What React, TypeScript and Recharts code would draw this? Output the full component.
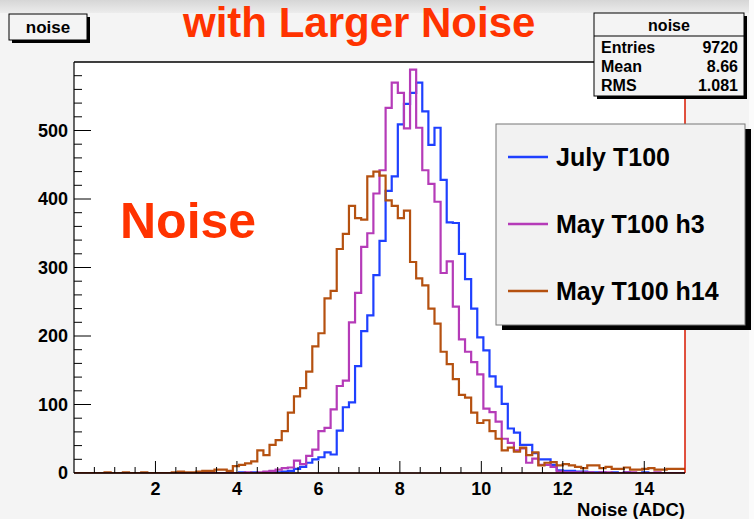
import React from 'react';
import { ComposedChart, Line, XAxis, YAxis, ReferenceLine } from 'recharts';

// ---- data (100 bins, 0..15, width 0.15) ----
const binEdgesStart = 0;
const binWidth = 0.15;
const julyT100 = [
  0, 0, 0, 0, 0, 0, 0, 0, 0, 0,
  0, 0, 0, 0, 0, 0, 0, 0, 0, 0,
  0, 0, 0, 0, 0, 0, 0, 1, 0, 1,
  0, 1, 2, 1, 2, 3, 6, 9, 15, 20,
  23, 30, 27, 62, 96, 103, 156, 207, 230, 289,
  339, 412, 433, 509, 539, 555, 570, 528, 479, 504,
  428, 366, 365, 320, 283, 240, 198, 179, 141, 126,
  101, 65, 59, 41, 41, 29, 20, 20, 12, 4,
  3, 3, 2, 2, 1, 1, 1, 0, 1, 0,
  1, 0, 0, 1, 0, 0, 0, 0, 0, 0,
];
const mayT100h3 = [
  0, 0, 0, 0, 0, 0, 0, 0, 0, 0,
  0, 0, 0, 0, 0, 0, 0, 0, 0, 0,
  0, 0, 0, 0, 0, 0, 0, 0, 1, 0,
  1, 2, 3, 5, 7, 8, 18, 13, 25, 34,
  61, 66, 93, 127, 135, 220, 263, 330, 350, 408,
  442, 533, 570, 555, 503, 589, 504, 442, 422, 396,
  292, 309, 243, 195, 177, 162, 144, 94, 89, 75,
  50, 44, 33, 36, 15, 21, 12, 12, 9, 2,
  1, 1, 1, 1, 1, 0, 1, 1, 0, 0,
  1, 1, 0, 0, 0, 1, 0, 0, 0, 0,
];
const mayT100h14 = [
  0, 0, 0, 0, 0, 1, 0, 0, 1, 0,
  0, 1, 0, 0, 0, 0, 1, 2, 1, 1,
  2, 3, 3, 5, 5, 3, 10, 12, 14, 17,
  33, 26, 41, 48, 61, 88, 112, 124, 148, 185,
  204, 255, 266, 327, 349, 390, 372, 370, 433, 440,
  434, 398, 390, 372, 383, 308, 284, 274, 240, 218,
  177, 159, 137, 114, 110, 88, 73, 77, 61, 50,
  33, 37, 31, 37, 26, 30, 11, 15, 16, 11,
  13, 11, 9, 7, 11, 11, 7, 9, 6, 6,
  8, 5, 5, 6, 7, 5, 5, 6, 6, 6,
];
const seriesNames = ['July T100', 'May T100 h3', 'May T100 h14'];
const seriesKeys = ['july', 'h3', 'h14'];
const seriesColors = ['#1f40ff', '#b53bb8', '#b55110'];
const xTicks = [0, 0.5, 1, 1.5, 2, 2.5, 3, 3.5, 4, 4.5, 5, 5.5, 6, 6.5, 7, 7.5, 8, 8.5, 9, 9.5, 10, 10.5, 11, 11.5, 12, 12.5, 13, 13.5, 14, 14.5, 15];
const xTickLabels = [2, 4, 6, 8, 10, 12, 14];
const xMajor = [2, 4, 6, 8, 10, 12, 14];
const yTicks = [0, 20, 40, 60, 80, 100, 120, 140, 160, 180, 200, 220, 240, 260, 280, 300, 320, 340, 360, 380, 400, 420, 440, 460, 480, 500, 520, 540, 560, 580, 600];
const yTickLabels = [0, 100, 200, 300, 400, 500];
const statsRows = [
  ['Entries', '9720'],
  ['Mean', '8.66'],
  ['RMS', '1.081'],
];

// ---- build table ----
const series = [julyT100, mayT100h3, mayT100h14];
const data: any[] = julyT100.map((_, i) => {
  const row: any = { x: +(binEdgesStart + i * binWidth).toFixed(4) };
  seriesKeys.forEach((k, s) => (row[k] = series[s][i]));
  return row;
});
{
  const last: any = { x: +(binEdgesStart + julyT100.length * binWidth).toFixed(4) };
  seriesKeys.forEach((k, s) => (last[k] = series[s][series[s].length - 1]));
  data.push(last);
}

// ---- layout ----
const W = 754;
const H = 519;
const PL = 74;
const PT = 62;
const PR = 685;
const PB = 473;
const FONT = '"Liberation Sans", Arial, Helvetica, sans-serif';

const XTick = (props: any) => {
  const { x, payload } = props;
  const v = payload.value;
  if (v <= 0 || v >= 15) return <g />;
  const major = xMajor.includes(v);
  return (
    <g>
      <line x1={x} x2={x} y1={PB} y2={PB - (major ? 12 : 6)} stroke="#000" strokeWidth={1} />
      {xTickLabels.includes(v) && (
        <text x={x} y={PB + 22} textAnchor="middle" fontFamily={FONT} fontWeight="bold" fontSize={18} fill="#000">
          {v}
        </text>
      )}
    </g>
  );
};

const YTick = (props: any) => {
  const { y, payload } = props;
  const v = payload.value;
  const major = v % 100 === 0;
  return (
    <g>
      {v > 0 && v < 600 && (
        <line x1={PL} x2={PL + (major ? 17 : 8)} y1={y} y2={y} stroke="#000" strokeWidth={1} />
      )}
      {yTickLabels.includes(v) && (
        <text x={PL - 6} y={y + 6} textAnchor="end" fontFamily={FONT} fontWeight="bold" fontSize={18} fill="#000">
          {v}
        </text>
      )}
    </g>
  );
};

export default function App() {
  return (
    <div style={{ position: 'absolute', left: 0, top: 0, width: W, height: H, background: '#f4f4f4', overflow: 'hidden' }}>
      <div style={{ position: 'absolute', left: 0, top: 0, width: W, height: 13, background: 'linear-gradient(#d6d6d6, #ececec)' }} />
      <div style={{ position: 'absolute', left: W - 5, top: 0, width: 5, height: H, background: '#fbfbfb' }} />
      <div style={{ position: 'absolute', left: PL, top: PT, width: PR - PL, height: PB - PT, background: '#ffffff' }} />
      <div style={{ position: 'absolute', left: 0, top: 0 }}>
        <ComposedChart width={W} height={H} data={data} margin={{ top: PT, right: W - PR, bottom: 0, left: 0 }}>
          <XAxis
            dataKey="x"
            type="number"
            domain={[0, 15]}
            ticks={xTicks}
            interval={0}
            tickLine={false}
            tick={(p: any) => <XTick {...p} />}
            axisLine={{ stroke: '#000', strokeWidth: 1.5 }}
            height={H - PB}
            allowDataOverflow
          />
          <YAxis
            type="number"
            domain={[0, 600]}
            ticks={yTicks}
            interval={0}
            tickLine={false}
            tick={(p: any) => <YTick {...p} />}
            axisLine={{ stroke: '#000', strokeWidth: 1.2 }}
            width={PL}
            allowDataOverflow
          />
          <ReferenceLine y={600} stroke="#000" strokeWidth={1.5} ifOverflow="visible" />
          {seriesKeys.map((k, i) => (
            <Line
              key={k}
              dataKey={k}
              name={seriesNames[i]}
              type="stepAfter"
              stroke={seriesColors[i]}
              strokeWidth={2.2}
              dot={false}
              activeDot={false}
              isAnimationActive={false}
            />
          ))}
          <ReferenceLine y={0} stroke="#d81800" strokeWidth={1.2} ifOverflow="visible" />
          <ReferenceLine x={15} stroke="#d81800" strokeWidth={1.5} ifOverflow="visible" />
        </ComposedChart>
      </div>
      <svg width={W} height={H} style={{ position: 'absolute', left: 0, top: 0, pointerEvents: 'none' }}>
        {/* top-left histogram name box */}
        <rect x={12} y={17} width={78} height={26} fill="#000" />
        <rect x={9} y={14} width={78} height={26} fill="#f4f4f4" stroke="#000" strokeWidth={1} />
        <text x={48} y={33} textAnchor="middle" fontFamily={FONT} fontWeight="bold" fontSize={17} fill="#000">noise</text>

        {/* title */}
        <text x={183} y={37} fontFamily={FONT} fontWeight="bold" fontSize={42} fill="#ff3300">with Larger Noise</text>

        {/* stats box */}
        <rect x={597} y={16} width={150} height={83} fill="#000" />
        <rect x={594} y={13} width={150} height={83} fill="#f4f4f4" stroke="#000" strokeWidth={1} />
        <line x1={594} x2={744} y1={36} y2={36} stroke="#000" strokeWidth={1} />
        <text x={669} y={31} textAnchor="middle" fontFamily={FONT} fontWeight="bold" fontSize={16} fill="#000">noise</text>
        {statsRows.map((r, i) => (
          <g key={r[0]}>
            <text x={601} y={53 + i * 19} fontFamily={FONT} fontWeight="bold" fontSize={16} fill="#000">{r[0]}</text>
            <text x={738} y={53 + i * 19} textAnchor="end" fontFamily={FONT} fontWeight="bold" fontSize={16} fill="#000">{r[1]}</text>
          </g>
        ))}

        {/* legend */}
        <rect x={502} y={129} width={249} height={201} fill="#000" />
        <rect x={496} y={124} width={249} height={201} fill="#f2f2f2" stroke="#777" strokeWidth={1} />
        {seriesNames.map((n, i) => (
          <g key={n}>
            <line x1={508} x2={548} y1={157 + i * 67} y2={157 + i * 67} stroke={seriesColors[i]} strokeWidth={2.5} />
            <text x={556} y={166 + i * 67} fontFamily={FONT} fontWeight="bold" fontSize={25} fill="#000">{n}</text>
          </g>
        ))}

        {/* big label */}
        <text x={120} y={238} fontFamily={FONT} fontWeight="bold" fontSize={50} fill="#ff3300">Noise</text>

        {/* x axis title */}
        <text x={685} y={516} textAnchor="end" fontFamily={FONT} fontWeight="bold" fontSize={18.5} fill="#000">Noise (ADC)</text>
      </svg>
    </div>
  );
}
